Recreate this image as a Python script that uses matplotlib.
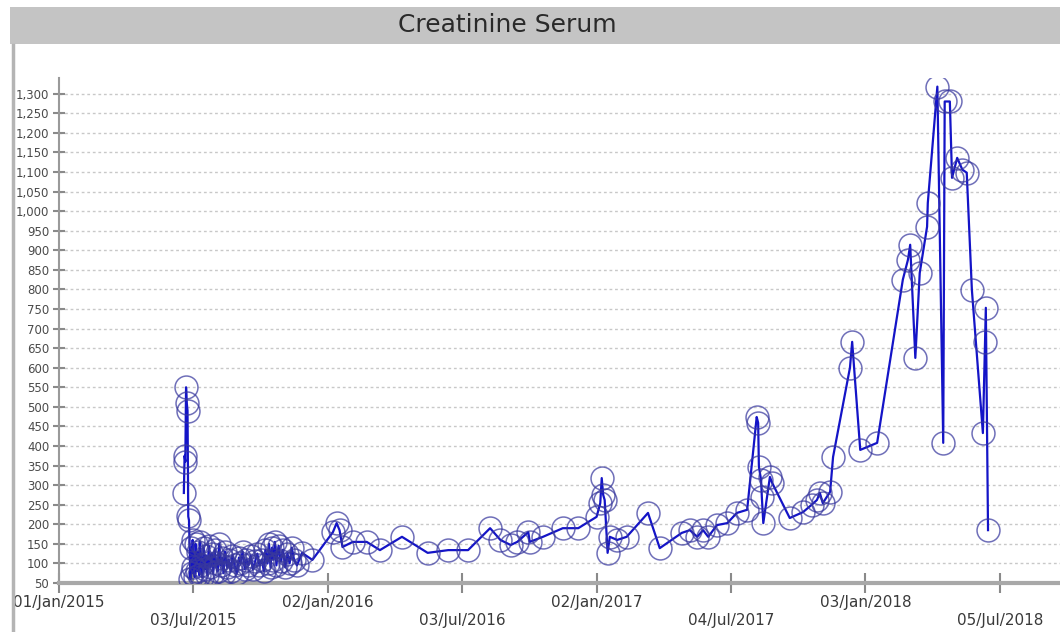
import matplotlib
matplotlib.use("Agg")
import matplotlib.pyplot as plt
import pandas as pd
from matplotlib.patches import Rectangle
from matplotlib.lines import Line2D
from matplotlib.ticker import MultipleLocator, FuncFormatter

TITLE = "Creatinine Serum"

dates = [
    "2015-06-20", "2015-06-21", "2015-06-22", "2015-06-23", "2015-06-24", "2015-06-25",
    "2015-06-26", "2015-06-27", "2015-06-29",
    "2015-06-30", "2015-07-01", "2015-07-02", "2015-07-03", "2015-07-05", "2015-07-06",
    "2015-07-08", "2015-07-09", "2015-07-11", "2015-07-12", "2015-07-14", "2015-07-15",
    "2015-07-17", "2015-07-19", "2015-07-20", "2015-07-22", "2015-07-24", "2015-07-26",
    "2015-07-28", "2015-07-30", "2015-08-01", "2015-08-03", "2015-08-05", "2015-08-07",
    "2015-08-09", "2015-08-11", "2015-08-13", "2015-08-15", "2015-08-18", "2015-08-20",
    "2015-08-23", "2015-08-25", "2015-08-28", "2015-08-31", "2015-09-03", "2015-09-05",
    "2015-09-08", "2015-09-11", "2015-09-13", "2015-09-16", "2015-09-19", "2015-09-22",
    "2015-09-25", "2015-09-28", "2015-10-01", "2015-10-04", "2015-10-07", "2015-10-09",
    "2015-10-12", "2015-10-14", "2015-10-16", "2015-10-18", "2015-10-20", "2015-10-22",
    "2015-10-24", "2015-10-27", "2015-10-30", "2015-11-02", "2015-11-05", "2015-11-08",
    "2015-11-11", "2015-11-14", "2015-11-17", "2015-11-21", "2015-11-28", "2015-12-12",
    "2016-01-09", "2016-01-14", "2016-01-18", "2016-01-22", "2016-02-05", "2016-02-24",
    "2016-03-13", "2016-04-12", "2016-05-17", "2016-06-14", "2016-07-11", "2016-08-10",
    "2016-08-24", "2016-09-07", "2016-09-16", "2016-10-01", "2016-10-03", "2016-10-21",
    "2016-11-17", "2016-12-08",
    "2017-01-02", "2017-01-07", "2017-01-09", "2017-01-11", "2017-01-13", "2017-01-17",
    "2017-01-20", "2017-01-30", "2017-02-12", "2017-03-13", "2017-03-29", "2017-04-28",
    "2017-05-09", "2017-05-19", "2017-05-27", "2017-06-03", "2017-06-15", "2017-06-29",
    "2017-07-12", "2017-07-26", "2017-08-08", "2017-08-10", "2017-08-11", "2017-08-14",
    "2017-08-15", "2017-08-17", "2017-08-26", "2017-08-29", "2017-09-22", "2017-10-10",
    "2017-10-22", "2017-10-29", "2017-11-02", "2017-11-06", "2017-11-16", "2017-11-20",
    "2017-12-13", "2017-12-16", "2017-12-27",
    "2018-01-19", "2018-02-23", "2018-03-02", "2018-03-05", "2018-03-12", "2018-03-18",
    "2018-03-28", "2018-03-29", "2018-04-11", "2018-04-19", "2018-04-21", "2018-04-28",
    "2018-05-01", "2018-05-08", "2018-05-15", "2018-05-21", "2018-05-28", "2018-06-12",
    "2018-06-15", "2018-06-16", "2018-06-19",
]

values = [
    280, 375, 360, 550, 510, 490,
    220, 210, 60,
    140, 75, 160, 90, 65, 150,
    80, 130, 70, 155, 95, 65,
    140, 85, 120, 70, 145, 90,
    125, 75, 135, 100, 80, 150,
    95, 115, 75, 130, 90, 110,
    80, 120, 95, 75, 115, 100,
    130, 85, 110, 95, 120, 85,
    105, 125, 95, 110, 80, 135,
    100, 150, 90, 140, 110, 155,
    95, 145, 105, 135, 90, 125,
    100, 140, 110, 95, 127, 109,
    180, 203, 185, 142, 155, 155,
    134, 168, 127, 134, 134, 190,
    160, 147, 155, 180, 155, 168,
    190, 190,
    219, 254, 318, 275, 262, 127,
    168, 160, 168, 229, 139, 178,
    185, 168, 185, 168, 198, 203,
    229, 237, 474, 459, 347, 313,
    270, 203, 321, 306, 216, 231,
    250, 262, 280, 254, 283, 372,
    600, 666, 390,
    408, 825, 876, 914, 625, 842,
    960, 1021, 1318, 408, 1280, 1280,
    1085, 1136, 1106, 1098, 799, 433,
    666, 753, 185,
]

tick_dates = ["2015-01-01", "2015-07-03", "2016-01-02", "2016-07-03",
              "2017-01-02", "2017-07-04", "2018-01-03", "2018-07-05"]
tick_labels = ["01/Jan/2015", "03/Jul/2015", "02/Jan/2016", "03/Jul/2016",
               "02/Jan/2017", "04/Jul/2017", "03/Jan/2018", "05/Jul/2018"]

x = pd.to_datetime(dates)
xt = pd.to_datetime(tick_dates)

W, H = 1060, 632
fig = plt.figure(figsize=(W / 100, H / 100), dpi=100)
fig.patch.set_facecolor("white")

# title bar
fig.patches.append(Rectangle((10 / W, 1 - 44 / H), 1 - 10 / W, 37 / H,
                             transform=fig.transFigure, facecolor="#c4c4c4",
                             edgecolor="none", zorder=0))
fig.text(507 / W, 1 - 25 / H, TITLE, ha="center", va="center",
         fontsize=18, color="#2a2a2a", family="DejaVu Sans")

ax = fig.add_axes([59 / W, 49 / H, 1 - 59 / W, 505 / H])
ax.set_facecolor("white")

ax.plot(x, values, color=(0.08, 0.08, 0.78), lw=1.6, zorder=3)
ax.plot(x, values, linestyle="none", marker="o", markersize=16.5,
        markerfacecolor="none", markeredgecolor=(0.22, 0.22, 0.62, 0.72),
        markeredgewidth=1.1, zorder=4)

ax.set_ylim(50, 1340)
ax.set_xlim(pd.Timestamp("2015-01-01"), pd.Timestamp("2015-01-01") + pd.Timedelta(days=1363))

ax.yaxis.set_major_locator(MultipleLocator(50))
ax.yaxis.set_major_formatter(FuncFormatter(lambda v, p: f"{int(v):,}"))
ax.grid(axis="y", color="#c8c8c8", linestyle=(0, (2, 2)), linewidth=1)
ax.set_axisbelow(True)

ax.set_xticks(xt)
ax.set_xticklabels([lab if i % 2 == 0 else "\n" + lab for i, lab in enumerate(tick_labels)])

for s in ["top", "right"]:
    ax.spines[s].set_visible(False)
ax.spines["bottom"].set_color("#a8a8a8")
ax.spines["bottom"].set_linewidth(3)
ax.spines["left"].set_color("#9a9a9a")
ax.spines["left"].set_linewidth(1.5)

ax.tick_params(axis="y", direction="inout", length=8, width=1.5, color="#8a8a8a",
               labelsize=8.5, labelcolor="#4a4a4a", pad=3)
ax.tick_params(axis="x", direction="inout", length=14, width=1.5, color="#8a8a8a",
               labelsize=11, labelcolor="#3a3a3a", pad=2)

# left frame line
fig.lines.append(Line2D([13 / W, 13 / W], [0, 1 - 45 / H], transform=fig.transFigure,
                        color="#b4b4b4", lw=2.5, zorder=10))

fig.savefig("out.png", dpi=100)
